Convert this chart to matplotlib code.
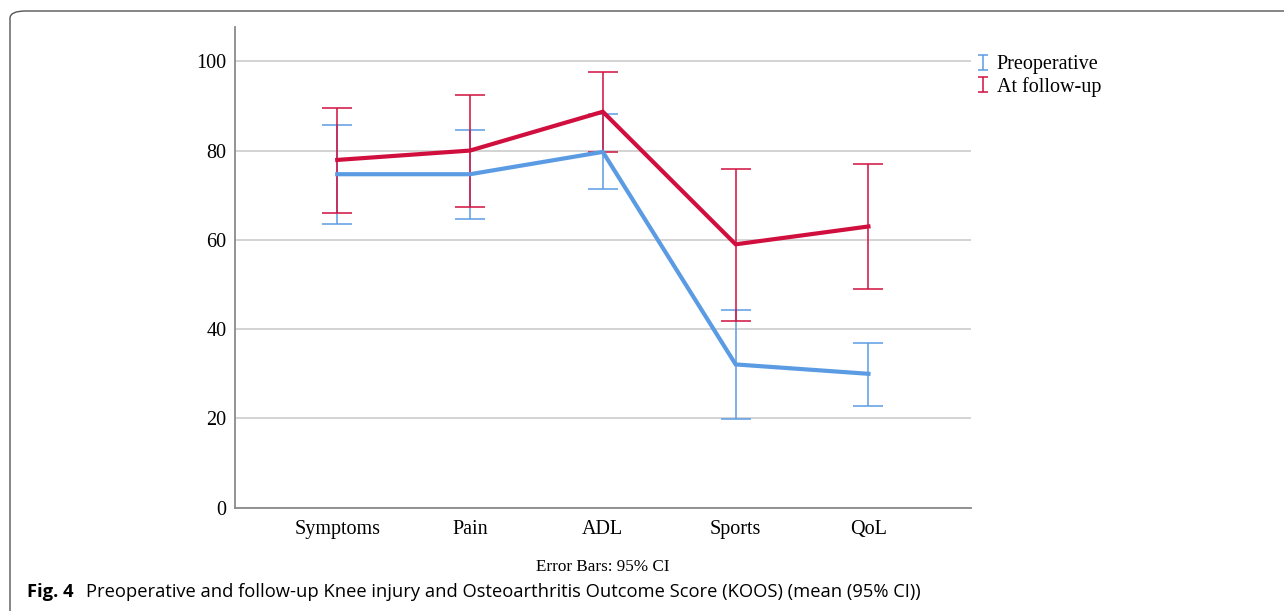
import numpy as np
import matplotlib
matplotlib.use("Agg")
import matplotlib.pyplot as plt
from matplotlib.patches import FancyBboxPatch
from matplotlib.container import ErrorbarContainer
from matplotlib.legend_handler import HandlerErrorbar

# KOOS subscales
categories = ["Symptoms", "Pain", "ADL", "Sports", "QoL"]

# Preoperative: mean and 95% CI
pre_mean = [74.7, 74.7, 79.7, 32.1, 30.0]
pre_low = [63.5, 64.6, 71.4, 19.9, 22.8]
pre_high = [85.8, 84.7, 88.2, 44.2, 37.0]

# At follow-up: mean and 95% CI
fu_mean = [77.9, 80.0, 88.7, 59.0, 63.0]
fu_low = [66.1, 67.3, 79.7, 41.9, 49.1]
fu_high = [89.6, 92.5, 97.5, 75.8, 77.0]

blue = "#5b9be3"
red = "#d10f3f"
serif = "Liberation Serif"

fig = plt.figure(figsize=(12.84, 6.11), dpi=100)
ax = fig.add_axes([0.183, 0.169, 0.573, 0.787])

x = np.arange(len(categories))


def draw(mean, low, high, color, label):
    mean = np.array(mean)
    yerr = [mean - np.array(low), np.array(high) - mean]
    ax.errorbar(x, mean, yerr=yerr, fmt="none", ecolor=color,
                elinewidth=1.1, capsize=11, capthick=1.1, zorder=3)
    ax.plot(x, mean, color=color, lw=3.0, solid_joinstyle="miter", zorder=4)
    # small proxy for the legend "I" marker
    proxy = ax.errorbar([np.nan], [np.nan], yerr=[[1], [1]], fmt="none", ecolor=color,
                        elinewidth=1.1, capsize=3.3, capthick=1.1, label=label)
    return proxy


eb_pre = draw(pre_mean, pre_low, pre_high, blue, "Preoperative")
eb_fu = draw(fu_mean, fu_low, fu_high, red, "At follow-up")

ax.set_xlim(-0.77, 4.77)
ax.set_ylim(0, 107.7)
ax.set_yticks([0, 20, 40, 60, 80, 100])
ax.set_xticks(x)
ax.set_xticklabels(categories)
ax.yaxis.grid(True, color="#c8c8c8", lw=1.1)
ax.set_axisbelow(True)
ax.tick_params(length=0, labelsize=14.5, pad=6)
ax.tick_params(axis="x", pad=9)
for lab in ax.get_xticklabels() + ax.get_yticklabels():
    lab.set_fontfamily(serif)
for s in ["top", "right"]:
    ax.spines[s].set_visible(False)
ax.spines["left"].set_color("#8a8a8a")
ax.spines["bottom"].set_color("#8a8a8a")
ax.spines["left"].set_linewidth(1.3)
ax.spines["bottom"].set_linewidth(1.3)

fig.text(0.4695, 1 - 567 / 611, "Error Bars: 95% CI", fontfamily=serif, fontsize=12.3,
         ha="center", va="center")

leg = ax.legend(handles=[eb_pre, eb_fu], loc="upper left", bbox_to_anchor=(1.0, 0.958),
                frameon=False, handlelength=0.45, handletextpad=0.45, borderaxespad=0,
                labelspacing=0.12, prop={"family": serif, "size": 14.5},
                handler_map={ErrorbarContainer: HandlerErrorbar(yerr_size=0.38)})

# caption
cap_y = 1 - 592 / 611
fig.text(27 / 1284, cap_y, "Fig. 4", fontfamily="Open Sans", fontweight="bold",
         fontsize=13.2, va="center")
fig.text(86 / 1284, cap_y,
         "Preoperative and follow-up Knee injury and Osteoarthritis Outcome Score (KOOS) (mean (95% CI))",
         fontfamily="Open Sans", fontsize=13.2, va="center")

# panel frame (top-left corner visible)
frame = FancyBboxPatch((10 / 1284, -0.2), 1.2, 1.2 - 11 / 611,
                       boxstyle="round,pad=0,rounding_size=0.012",
                       transform=fig.transFigure, fill=False, ec="#555555", lw=1.0)
fig.patches.append(frame)

fig.savefig("out.png", dpi=100)
